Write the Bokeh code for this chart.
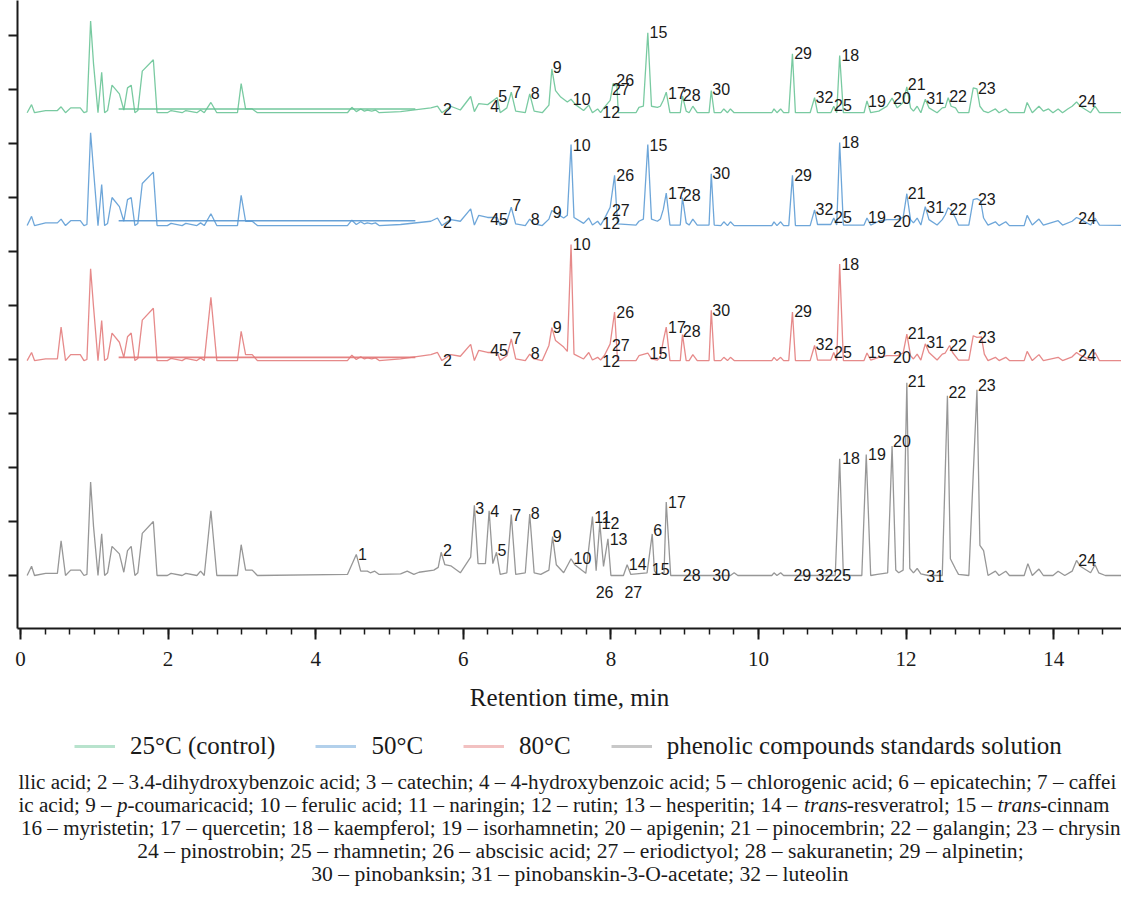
from bokeh.plotting import figure
from bokeh.layouts import column
from bokeh.models import (LabelSet, Legend, LegendItem, FixedTicker,
                          Range1d, ColumnDataSource)
from bokeh.core.properties import value, field
from bokeh.embed import file_html
from bokeh.resources import INLINE

# ---------------- data (retention time, min ; relative signal) ----------------
gray_points = [
    (0.09, 0), (0.15, 0.17), (0.19, 0), (0.34, 0.04), (0.50, 0.04), (0.55, 0.64), (0.61, 0),
    (0.68, 0.1), (0.81, 0.1), (0.86, 0), (0.90, 0.02), (0.95, 1.73), (0.99, 0.9), (1.05, 0),
    (1.10, 0.77), (1.14, 0), (1.18, 0.05), (1.24, 0.54), (1.34, 0.4), (1.40, 0.06), (1.45, 0.46),
    (1.50, 0.54), (1.55, 0), (1.59, 0.05), (1.65, 0.78), (1.80, 1.0), (1.85, 0), (1.99, 0),
    (2.04, 0.04), (2.19, 0), (2.24, 0.04), (2.39, 0), (2.44, 0.08), (2.49, 0), (2.58, 1.2),
    (2.66, 0), (2.94, 0), (2.99, 0.57), (3.05, 0.1), (3.14, 0.1), (3.21, 0), (4.43, 0.02),
    (4.55, 0.39), (4.61, 0.08), (4.70, 0.08), (4.74, 0.05), (4.80, 0.08), (4.86, 0.02),
    (5.15, 0.03), (5.24, 0.08), (5.33, 0.02), (5.40, 0.06), (5.60, 0.1), (5.66, 0.15),
    (5.70, 0.43), (5.75, 0.2), (5.83, 0.18), (5.96, 0.05), (6.10, 0.34), (6.15, 1.3),
    (6.20, 0.22), (6.30, 0.22), (6.35, 1.2), (6.40, 0.22), (6.45, 0.43), (6.50, 0.02),
    (6.59, 0.05), (6.65, 1.13), (6.71, 0.02), (6.84, 0.05), (6.90, 1.14), (6.96, 0.05),
    (7.05, 0.02), (7.16, 0.1), (7.21, 0.72), (7.26, 0.2), (7.36, 0.05), (7.46, 0.31),
    (7.51, 0.2), (7.66, 0.04), (7.75, 1.09), (7.80, 0.09), (7.85, 0.97), (7.90, 0.17),
    (7.96, 0.68), (8.00, 0), (8.17, 0), (8.22, 0.2), (8.27, 0.02), (8.49, 0.05), (8.56, 0.77),
    (8.59, 0.08), (8.63, 0.02), (8.72, 0.05), (8.75, 1.36), (8.81, 0), (9.62, 0), (9.67, 0.05),
    (9.72, 0), (10.18, 0), (10.21, 0.05), (10.25, 0), (10.30, 0.05), (10.34, 0), (11.04, 0),
    (11.10, 2.16), (11.15, 0), (11.40, 0), (11.46, 2.24), (11.52, 0), (11.61, 0.02),
    (11.75, 0.05), (11.81, 2.4), (11.86, 0.1), (11.90, 0.05), (11.96, 0.1), (12.01, 3.57),
    (12.05, 0.13), (12.10, 0.05), (12.15, 0.13), (12.20, 0.03), (12.30, 0), (12.49, 0),
    (12.56, 3.33), (12.60, 0.31), (12.67, 0.12), (12.71, 0.02), (12.85, 0), (12.96, 3.44),
    (13.00, 0.56), (13.05, 0.46), (13.11, 0), (13.21, 0.08), (13.26, 0), (13.35, 0.08),
    (13.40, 0), (13.60, 0), (13.65, 0.22), (13.71, 0), (13.80, 0.12), (13.86, 0), (13.99, 0),
    (14.06, 0.08), (14.15, 0), (14.25, 0.08), (14.31, 0.28), (14.36, 0.17), (14.50, 0.05),
    (14.56, 0.2), (14.61, 0.05), (14.70, 0), (15.0, 0),
]

red_points = [
    (0.09, 0), (0.15, 0.15), (0.19, 0), (0.34, 0.03), (0.50, 0.03), (0.55, 0.62), (0.61, 0),
    (0.68, 0.11), (0.81, 0.11), (0.86, 0), (0.90, 0.02), (0.95, 1.70), (0.99, 0.99), (1.05, 0),
    (1.10, 0.74), (1.14, 0), (1.18, 0.04), (1.24, 0.51), (1.34, 0.34), (1.40, 0.06), (1.45, 0.44),
    (1.50, 0.51), (1.55, 0), (1.59, 0.04), (1.65, 0.75), (1.80, 0.97), (1.85, 0), (1.99, 0),
    (2.04, 0.04), (2.19, 0), (2.24, 0.04), (2.39, 0), (2.44, 0.05), (2.49, 0), (2.58, 1.17),
    (2.66, 0), (2.94, 0), (2.99, 0.54), (3.05, 0.11), (3.14, 0.11), (3.21, 0), (4.43, 0),
    (4.49, 0.1), (4.55, 0.02), (4.61, 0.07), (4.66, 0.03), (4.70, 0.05), (4.76, 0.03),
    (4.81, 0.05), (4.86, 0), (5.15, 0.03), (5.56, 0.11), (5.65, 0.15), (5.71, 0), (5.83, 0.11),
    (5.96, 0.08), (6.10, 0.3), (6.15, 0), (6.21, 0.19), (6.33, 0.15), (6.46, 0.15), (6.50, 0),
    (6.59, 0.09), (6.65, 0.4), (6.71, 0.03), (6.84, 0), (6.90, 0.12), (6.96, 0.03), (7.07, 0),
    (7.16, 0.28), (7.20, 0.61), (7.25, 0.37), (7.36, 0.25), (7.41, 0.17), (7.46, 2.15),
    (7.50, 0.12), (7.63, 0.03), (7.70, 0.15), (7.75, 0.01), (7.82, 0.06), (7.86, 0.01),
    (7.91, 0.09), (7.99, 0.31), (8.05, 0.9), (8.09, 0), (8.34, 0), (8.38, 0.09), (8.50, 0.14),
    (8.55, 0.03), (8.63, 0.01), (8.67, 0.06), (8.71, 0.37), (8.75, 0.62), (8.80, 0), (8.94, 0),
    (8.97, 0.48), (9.02, 0), (9.06, 0), (9.11, 0.11), (9.17, 0), (9.33, 0), (9.36, 0.93),
    (9.40, 0), (9.49, 0), (9.53, 0.06), (9.58, 0), (9.62, 0.06), (9.67, 0), (10.18, 0),
    (10.21, 0.06), (10.25, 0), (10.30, 0.06), (10.34, 0), (10.41, 0), (10.46, 0.9), (10.50, 0),
    (10.70, 0), (10.76, 0.28), (10.80, 0.01), (10.98, 0.01), (11.02, 0.15), (11.06, 0),
    (11.10, 1.79), (11.15, 0), (11.43, 0), (11.47, 0.14), (11.52, 0.01), (11.63, 0.06),
    (11.74, 0.09), (11.88, 0.09), (11.96, 0.14), (12.01, 0.49), (12.06, 0.09), (12.10, 0.03),
    (12.15, 0.12), (12.20, 0.01), (12.26, 0.31), (12.31, 0.15), (12.42, 0.01), (12.49, 0.12),
    (12.53, 0.14), (12.59, 0.28), (12.63, 0.15), (12.71, 0.01), (12.85, 0.01), (12.91, 0.46),
    (12.96, 0.43), (13.02, 0.44), (13.06, 0.12), (13.11, 0), (13.21, 0.06), (13.26, 0),
    (13.35, 0.06), (13.40, 0), (13.60, 0), (13.64, 0.17), (13.71, 0), (13.80, 0.11),
    (13.86, 0), (14.06, 0.06), (14.12, 0), (14.25, 0.07), (14.31, 0.15), (14.36, 0.1),
    (14.50, 0.01), (14.56, 0.15), (14.62, 0), (15.0, 0),
]

blue_points = [
    (0.09, 0), (0.15, 0.17), (0.19, 0), (0.34, 0.05), (0.50, 0.05), (0.55, 0.12), (0.61, 0),
    (0.68, 0.09), (0.81, 0.09), (0.86, 0), (0.90, 0.02), (0.95, 1.72), (0.99, 1.02), (1.05, 0),
    (1.10, 0.76), (1.14, 0), (1.18, 0.04), (1.24, 0.52), (1.34, 0.35), (1.40, 0.08), (1.45, 0.48),
    (1.50, 0.52), (1.55, 0), (1.59, 0.04), (1.65, 0.78), (1.80, 0.99), (1.85, 0), (1.99, 0),
    (2.04, 0.04), (2.19, 0), (2.24, 0.04), (2.39, 0), (2.44, 0.05), (2.49, 0), (2.58, 0.22),
    (2.66, 0), (2.94, 0), (2.99, 0.56), (3.05, 0.08), (3.14, 0.08), (3.21, 0), (4.43, 0),
    (4.49, 0.1), (4.55, 0.02), (4.61, 0.07), (4.66, 0.03), (4.70, 0.05), (4.76, 0.03),
    (4.81, 0.05), (4.86, 0), (5.15, 0.02), (5.56, 0.08), (5.65, 0.14), (5.71, 0), (5.83, 0.11),
    (5.96, 0.08), (6.10, 0.31), (6.15, 0.01), (6.21, 0.19), (6.33, 0.15), (6.46, 0.15),
    (6.50, 0), (6.59, 0.08), (6.65, 0.34), (6.71, 0.03), (6.84, 0), (6.90, 0.12), (6.96, 0.03),
    (7.07, 0), (7.16, 0.12), (7.20, 0.28), (7.27, 0.22), (7.36, 0.14), (7.41, 0.19),
    (7.46, 1.5), (7.50, 0.15), (7.63, 0.04), (7.70, 0.14), (7.75, 0.01), (7.82, 0.08),
    (7.86, 0.01), (7.91, 0.12), (7.99, 0.34), (8.05, 0.93), (8.09, 0.03), (8.34, 0.01),
    (8.38, 0.08), (8.44, 0.12), (8.50, 1.5), (8.55, 0.12), (8.63, 0.08), (8.67, 0.12),
    (8.71, 0.3), (8.75, 0.6), (8.80, 0.01), (8.94, 0.01), (8.97, 0.52), (9.02, 0.05),
    (9.06, 0.01), (9.11, 0.12), (9.17, 0.01), (9.33, 0.01), (9.36, 0.96), (9.40, 0.01),
    (9.49, 0), (9.53, 0.07), (9.58, 0), (9.62, 0.07), (9.67, 0), (10.18, 0), (10.21, 0.07),
    (10.25, 0), (10.30, 0.07), (10.34, 0), (10.41, 0), (10.46, 0.93), (10.50, 0), (10.70, 0),
    (10.76, 0.29), (10.80, 0.02), (10.98, 0.02), (11.02, 0.14), (11.06, 0.01), (11.10, 1.54),
    (11.15, 0.01), (11.43, 0.01), (11.47, 0.14), (11.52, 0.01), (11.63, 0.08), (11.74, 0.11),
    (11.88, 0.11), (11.96, 0.15), (12.01, 0.59), (12.06, 0.11), (12.10, 0.05), (12.15, 0.14),
    (12.20, 0.01), (12.26, 0.35), (12.31, 0.11), (12.42, 0.01), (12.49, 0.11), (12.53, 0.2),
    (12.57, 0.33), (12.61, 0.29), (12.67, 0.14), (12.71, 0.01), (12.85, 0.01), (12.91, 0.48),
    (12.96, 0.5), (13.01, 0.46), (13.05, 0.14), (13.11, 0.01), (13.21, 0.07), (13.26, 0),
    (13.35, 0.07), (13.40, 0), (13.60, 0), (13.64, 0.19), (13.71, 0.01), (13.80, 0.12),
    (13.86, 0.01), (14.06, 0.09), (14.12, 0.01), (14.25, 0.08), (14.31, 0.15), (14.36, 0.12),
    (14.50, 0.01), (14.56, 0.14), (14.62, 0.01), (15.0, 0),
]

green_points = [
    (0.09, 0), (0.15, 0.15), (0.19, 0), (0.34, 0.04), (0.50, 0.04), (0.55, 0.11), (0.61, 0),
    (0.68, 0.09), (0.81, 0.09), (0.86, 0), (0.90, 0.02), (0.95, 1.70), (0.99, 0.9), (1.05, 0),
    (1.10, 0.75), (1.14, 0), (1.18, 0.04), (1.24, 0.51), (1.34, 0.35), (1.40, 0.05), (1.45, 0.46),
    (1.50, 0.51), (1.55, 0), (1.59, 0.04), (1.65, 0.77), (1.80, 0.98), (1.85, 0), (1.99, 0),
    (2.04, 0.04), (2.19, 0), (2.24, 0.04), (2.39, 0), (2.44, 0.05), (2.49, 0), (2.58, 0.19),
    (2.66, 0), (2.94, 0), (2.99, 0.54), (3.05, 0.07), (3.14, 0.07), (3.21, 0), (4.43, 0),
    (4.49, 0.1), (4.55, 0.02), (4.61, 0.07), (4.66, 0.03), (4.70, 0.05), (4.76, 0.03),
    (4.81, 0.05), (4.86, 0), (5.15, 0.02), (5.56, 0.09), (5.65, 0.12), (5.71, 0), (5.83, 0.12),
    (5.96, 0.05), (6.10, 0.3), (6.15, 0.02), (6.21, 0.17), (6.33, 0.15), (6.46, 0.28),
    (6.50, 0), (6.59, 0.09), (6.65, 0.38), (6.71, 0.03), (6.84, 0), (6.90, 0.35), (6.96, 0.03),
    (7.07, 0), (7.16, 0.14), (7.20, 0.81), (7.25, 0.41), (7.32, 0.29), (7.41, 0.2),
    (7.46, 0.25), (7.52, 0.15), (7.63, 0.04), (7.70, 0.14), (7.75, 0), (7.82, 0.07),
    (7.86, 0), (7.91, 0.1), (7.99, 0.23), (8.03, 0.54), (8.06, 0.5), (8.08, 0.53), (8.10, 0),
    (8.34, 0), (8.38, 0.1), (8.44, 0.12), (8.50, 1.48), (8.55, 0.12), (8.63, 0.1),
    (8.67, 0.12), (8.71, 0.23), (8.75, 0.38), (8.80, 0), (8.94, 0), (8.97, 0.31), (9.02, 0.03),
    (9.06, 0), (9.11, 0.12), (9.17, 0), (9.33, 0), (9.36, 0.41), (9.40, 0), (9.49, 0),
    (9.53, 0.07), (9.58, 0), (9.62, 0.07), (9.67, 0), (10.18, 0), (10.21, 0.07), (10.25, 0),
    (10.30, 0.07), (10.34, 0), (10.41, 0), (10.46, 1.09), (10.50, 0), (10.70, 0),
    (10.76, 0.28), (10.80, 0), (10.98, 0), (11.02, 0.12), (11.06, 0), (11.10, 1.06),
    (11.15, 0), (11.43, 0), (11.47, 0.22), (11.52, 0), (11.63, 0.03), (11.74, 0.12),
    (11.81, 0.27), (11.88, 0.09), (11.96, 0.19), (12.01, 0.48), (12.06, 0.09), (12.10, 0.03),
    (12.15, 0.12), (12.20, 0), (12.26, 0.25), (12.31, 0.09), (12.42, 0), (12.49, 0.09),
    (12.53, 0.1), (12.57, 0.28), (12.61, 0.12), (12.67, 0.09), (12.71, 0), (12.85, 0),
    (12.91, 0.46), (12.96, 0.44), (13.00, 0.12), (13.05, 0.03), (13.11, 0), (13.21, 0.07),
    (13.26, 0), (13.35, 0.07), (13.40, 0), (13.60, 0), (13.64, 0.19), (13.71, 0), (13.80, 0.12),
    (13.86, 0.03), (13.93, 0.07), (13.99, 0), (14.06, 0.07), (14.12, 0), (14.19, 0.07),
    (14.25, 0.12), (14.31, 0.2), (14.36, 0.12), (14.50, 0), (14.56, 0.12), (14.62, 0), (15.0, 0),
]

# flat overlay trace seen in the three sample runs (start, end) and its level
overlay_time = [1.33, 5.35]
green_overlay = [0.07, 0.07]
blue_overlay = [0.09, 0.09]
red_overlay = [0.06, 0.06]

# peak labels: (compound number, retention time, signal level)
gray_labels = [
    ("1", 4.56, 0.39), ("2", 5.71, 0.48), ("3", 6.15, 1.25), ("4", 6.35, 1.2), ("5", 6.45, 0.48),
    ("7", 6.65, 1.12), ("8", 6.90, 1.15), ("9", 7.20, 0.73), ("10", 7.48, 0.32),
    ("11", 7.76, 1.08), ("12", 7.86, 0.97), ("13", 7.97, 0.68), ("14", 8.23, 0.22),
    ("6", 8.56, 0.85), ("15", 8.54, 0.12), ("17", 8.76, 1.36), ("28", 8.96, 0.01),
    ("30", 9.36, 0.01), ("26", 7.78, -0.31), ("27", 8.17, -0.31), ("29", 10.46, 0.01),
    ("32", 10.76, 0.01), ("25", 11.00, 0.01), ("18", 11.12, 2.17), ("19", 11.47, 2.25),
    ("20", 11.81, 2.49), ("21", 12.01, 3.6), ("31", 12.26, 0.0), ("22", 12.56, 3.39),
    ("23", 12.96, 3.52), ("24", 14.32, 0.28),
]
red_labels = [
    ("2", 5.71, 0.01), ("45", 6.35, 0.2), ("7", 6.65, 0.42), ("8", 6.90, 0.14), ("9", 7.20, 0.62),
    ("10", 7.47, 2.15), ("12", 7.87, 0.0), ("27", 8.00, 0.28), ("26", 8.06, 0.9),
    ("15", 8.51, 0.14), ("17", 8.76, 0.62), ("28", 8.96, 0.54), ("30", 9.36, 0.94),
    ("29", 10.47, 0.91), ("32", 10.76, 0.31), ("25", 11.01, 0.15), ("18", 11.11, 1.79),
    ("19", 11.47, 0.15), ("20", 11.81, 0.06), ("21", 12.01, 0.51), ("31", 12.26, 0.35),
    ("22", 12.57, 0.28), ("23", 12.96, 0.43), ("24", 14.32, 0.11),
]
blue_labels = [
    ("2", 5.71, 0.06), ("45", 6.35, 0.125), ("7", 6.65, 0.39), ("8", 6.90, 0.125),
    ("9", 7.20, 0.26), ("10", 7.47, 1.5), ("12", 7.87, 0.04), ("27", 8.00, 0.29),
    ("26", 8.06, 0.93), ("15", 8.51, 1.5), ("17", 8.76, 0.6), ("28", 8.96, 0.56),
    ("30", 9.36, 0.97), ("29", 10.47, 0.93), ("32", 10.76, 0.31), ("25", 11.01, 0.16),
    ("18", 11.11, 1.54), ("19", 11.47, 0.16), ("20", 11.81, 0.09), ("21", 12.01, 0.6),
    ("31", 12.26, 0.34), ("22", 12.57, 0.31), ("23", 12.96, 0.5), ("24", 14.32, 0.14),
]
green_labels = [
    ("2", 5.71, 0.07), ("4", 6.35, 0.13), ("5", 6.46, 0.31), ("7", 6.65, 0.39), ("8", 6.90, 0.36),
    ("9", 7.20, 0.84), ("10", 7.47, 0.26), ("12", 7.87, 0.02), ("27", 8.00, 0.44),
    ("26", 8.06, 0.61), ("15", 8.51, 1.49), ("17", 8.76, 0.36), ("28", 8.96, 0.33),
    ("30", 9.36, 0.44), ("29", 10.47, 1.1), ("32", 10.76, 0.3), ("25", 11.01, 0.14),
    ("18", 11.11, 1.07), ("19", 11.47, 0.22), ("20", 11.81, 0.28), ("21", 12.01, 0.54),
    ("31", 12.26, 0.27), ("22", 12.57, 0.31), ("23", 12.96, 0.46), ("24", 14.32, 0.21),
]

series_names = ["25°C (control)", "50°C", "80°C", "phenolic compounds standards solution"]
x_tick_values = [0, 2, 4, 6, 8, 10, 12, 14]

caption_rows = [
    [("llic acid; 2 – 3.4-dihydroxybenzoic acid; 3 – catechin; 4 – 4-hydroxybenzoic acid; "
      "5 – chlorogenic acid; 6 – epicatechin; 7 – caffei", False)],
    [("ic acid; 9 – ", False), ("p", True),
     ("-coumaricacid; 10 – ferulic acid; 11 – naringin; 12 – rutin; 13 – hesperitin; 14 – ", False),
     ("trans", True), ("-resveratrol; 15 – ", False), ("trans", True), ("-cinnam", False)],
    [("16 – myristetin; 17 – quercetin; 18 – kaempferol; 19 – isorhamnetin; 20 – apigenin; "
      "21 – pinocembrin; 22 – galangin; 23 – chrysin", False)],
    [("24 – pinostrobin; 25 – rhamnetin; 26 – abscisic acid; 27 – eriodictyol; "
      "28 – sakuranetin; 29 – alpinetin;", False)],
    [("30 – pinobanksin; 31 – pinobanskin-3-O-acetate; 32 – luteolin", False)],
]

# ---------------- layout / style ----------------
OFFSETS = {"green": 8.57, "blue": 6.48, "red": 3.98, "gray": 0.0}
COLORS = {"green": "#62c191", "blue": "#5596d2", "red": "#e27575", "gray": "#858585"}
INK = "#1a1a1a"
SERIF = "Liberation Serif"
SANS = "Liberation Sans"

W = 1121
TOP_H = 722          # chart part (plot + x axis + axis title)
BOTTOM_H = 174       # legend + caption part

PX_PER_X = 73.8      # pixels per minute
X0 = 20.0            # pixel x of t = 0
PX_PER_Y = 54.0      # pixels per y unit
Y0 = 575.0           # pixel y of y = 0
FRAME_LEFT, FRAME_BOTTOM = 17, 628


def px_x(px):
    return (px - X0) / PX_PER_X


def px_y(py):
    return (Y0 - py) / PX_PER_Y


p = figure(width=W, height=TOP_H,
           x_range=Range1d(px_x(FRAME_LEFT), px_x(W)),
           y_range=Range1d(px_y(FRAME_BOTTOM), px_y(0)),
           output_backend="svg", toolbar_location=None,
           min_border_left=FRAME_LEFT, min_border_right=0, min_border_top=0,
           min_border_bottom=TOP_H - FRAME_BOTTOM)
p.outline_line_color = None
p.grid.visible = False

xa = p.xaxis[0]
xa.ticker = FixedTicker(ticks=x_tick_values, minor_ticks=[k / 3 for k in range(0, 46)])
xa.axis_line_width = 2
xa.axis_line_color = INK
xa.major_tick_line_width = 2
xa.major_tick_line_color = INK
xa.minor_tick_line_width = 1.5
xa.minor_tick_line_color = INK
xa.major_tick_out = 11
xa.major_tick_in = 0
xa.minor_tick_out = 6
xa.minor_tick_in = 0
xa.major_label_text_font = SERIF
xa.major_label_text_font_size = "21px"
xa.major_label_text_color = INK
xa.major_label_standoff = 12
xa.axis_label = "Retention time, min"
xa.axis_label_text_font = SERIF
xa.axis_label_text_font_size = "25px"
xa.axis_label_text_font_style = "normal"
xa.axis_label_text_color = INK
xa.axis_label_standoff = 15

ya = p.yaxis[0]
ya.ticker = FixedTicker(ticks=list(range(11)))
ya.major_label_overrides = {i: "" for i in range(11)}
ya.major_label_text_color = None
ya.major_label_standoff = 0
ya.axis_line_width = 2
ya.axis_line_color = INK
ya.major_tick_line_width = 2
ya.major_tick_line_color = INK
ya.major_tick_out = 9
ya.major_tick_in = 0
ya.minor_tick_line_color = None

series = [("green", green_points, green_overlay), ("blue", blue_points, blue_overlay),
          ("red", red_points, red_overlay), ("gray", gray_points, None)]
for key, pts, overlay in series:
    t = [a for a, _ in pts]
    y = [b + OFFSETS[key] for _, b in pts]
    p.line(t, y, line_color=COLORS[key], line_width=1.3, line_alpha=0.85)
    if overlay is not None:
        p.line(overlay_time, [v + OFFSETS[key] for v in overlay],
               line_color=COLORS[key], line_width=1.6, line_alpha=0.9)

for key, labs in [("green", green_labels), ("blue", blue_labels),
                  ("red", red_labels), ("gray", gray_labels)]:
    src = ColumnDataSource(dict(x=[l[1] for l in labs],
                                y=[l[2] + OFFSETS[key] for l in labs],
                                text=[l[0] for l in labs]))
    p.add_layout(LabelSet(x="x", y="y", text="text", source=src, x_offset=1,
                          text_font=value(SANS), text_font_size="16px",
                          text_color=INK, text_align="left", text_baseline="middle"))

# ---------------- legend + caption panel (pixel coordinates) ----------------
q = figure(width=W, height=BOTTOM_H, x_range=Range1d(0, W),
           y_range=Range1d(TOP_H + BOTTOM_H, TOP_H),
           output_backend="svg", toolbar_location=None,
           x_axis_location=None, y_axis_location=None,
           min_border_left=0, min_border_right=0, min_border_top=0, min_border_bottom=0)
q.outline_line_color = None
q.grid.visible = False

# legend sample renderers (their own points lie outside this panel's visible range)
legend_items = []
for key, name in zip(["green", "blue", "red", "gray"], series_names):
    r = q.line([-60, -50], [TOP_H, TOP_H], line_color=COLORS[key], line_width=3,
               line_alpha=0.45)
    legend_items.append(LegendItem(label=name, renderers=[r]))
LEGEND_MID = 746
legend = Legend(items=legend_items, orientation="horizontal",
                location=(57, TOP_H + BOTTOM_H - LEGEND_MID - 14),
                glyph_width=41, glyph_height=28, label_height=28, label_standoff=15,
                spacing=40, padding=0, margin=0, border_line_alpha=0,
                background_fill_alpha=0, label_text_font=SERIF,
                label_text_font_size="25px", label_text_color=INK)
q.add_layout(legend, "center")

REG = dict(zip("abcdefghijklmnopqrstuvwxyz",
               [444, 500, 444, 500, 444, 333, 500, 500, 278, 278, 500, 278, 778, 500, 500,
                500, 500, 333, 389, 278, 500, 500, 722, 500, 500, 444]))
ITA = dict(zip("abcdefghijklmnopqrstuvwxyz",
               [500, 500, 444, 500, 444, 278, 500, 500, 278, 278, 444, 278, 722, 500, 500,
                500, 500, 389, 389, 278, 500, 444, 667, 444, 444, 389]))
PUNCT = {" ": 250, ";": 278, ".": 250, ",": 250, "-": 333, "–": 500, "O": 722}
for d in "0123456789":
    PUNCT[d] = 500


def width_px(s, italic, size):
    table = ITA if italic else REG
    return sum(table.get(c, PUNCT.get(c, 500)) for c in s) * size / 1000.0


# (alignment, x, y centre, font size px) for each caption row
caption_place = [("left", 1.0, 781, 21.1), ("left", 1.0, 804, 21.1), ("left", 3.5, 827, 21.1),
                 ("center", 565.0, 850, 21.6), ("center", 567.0, 873, 21.6)]
cx, cy, ct, cs, cz = [], [], [], [], []
for segs, (mode, xref, yc, size) in zip(caption_rows, caption_place):
    total = sum(width_px(s, it, size) for s, it in segs)
    xstart = xref if mode == "left" else xref - total / 2.0
    for s, it in segs:
        cx.append(xstart)
        cy.append(yc)
        ct.append(s)
        cs.append("italic" if it else "normal")
        cz.append(f"{size}px")
        xstart += width_px(s, it, size) * (1.0 if it else 1.016)
csrc = ColumnDataSource(dict(x=cx, y=cy, text=ct, style=cs, size=cz))
q.text(x="x", y="y", text="text", source=csrc, text_font=value(SERIF),
       text_font_size=field("size"), text_font_style=field("style"), text_color=INK,
       text_align="left", text_baseline="middle")

layout = column(p, q, spacing=0)
open("out.html", "w").write(file_html(layout, INLINE))
